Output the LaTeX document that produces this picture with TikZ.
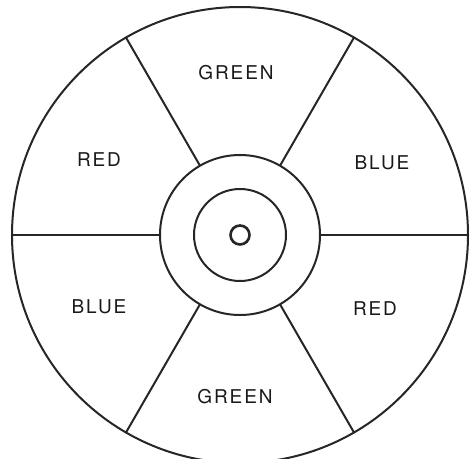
\documentclass[tikz,border=0pt]{standalone}
\usepackage{fontspec}
\usepackage{tikz}
\newfontfamily\lettering{TeX Gyre Heros}[LetterSpace=10]
\usetikzlibrary{positioning}

\tikzset{
  ring/.style={circle, draw, line width=2pt, outer sep=0pt, inner sep=0pt},
  spoke/.style={line width=2pt},
  colourname/.style={font=\lettering\fontsize{19}{21}\selectfont, text=black!90}
}

\begin{document}
\begin{tikzpicture}[x=1pt, y=1pt, black!85]
  \useasboundingbox (-240,-223) rectangle (230,235);

  % Rim and inner rings
  \node[ring, minimum size=456pt] (rim) at (0,0) {};
  \node[ring, minimum size=160pt] (hub) at (0,0) {};
  \node[ring, minimum size=92pt] (core) at (0,0) {};
  \node[ring, minimum size=19pt, line width=2.6pt] (axle) at (0,0) {};

  % Six spokes from hub to rim
  \draw[spoke] (hub.0) -- (rim.0);
  \draw[spoke] (hub.60) -- (rim.60);
  \draw[spoke] (hub.120) -- (rim.120);
  \draw[spoke] (hub.180) -- (rim.180);
  \draw[spoke] (hub.240) -- (rim.240);
  \draw[spoke] (hub.300) -- (rim.300);

  % Sector labels
  \node[colourname] (green top) at (-4,162) {GREEN};
  \node[colourname] (red left) at (-141,75) {RED};
  \node[colourname] (blue right) at (142,72) {BLUE};
  \node[colourname] (blue left) at (-141,-72) {BLUE};
  \node[colourname] (red right) at (135,-74) {RED};
  \node[colourname] (green bottom) at (-5,-162) {GREEN};
\end{tikzpicture}
\end{document}
